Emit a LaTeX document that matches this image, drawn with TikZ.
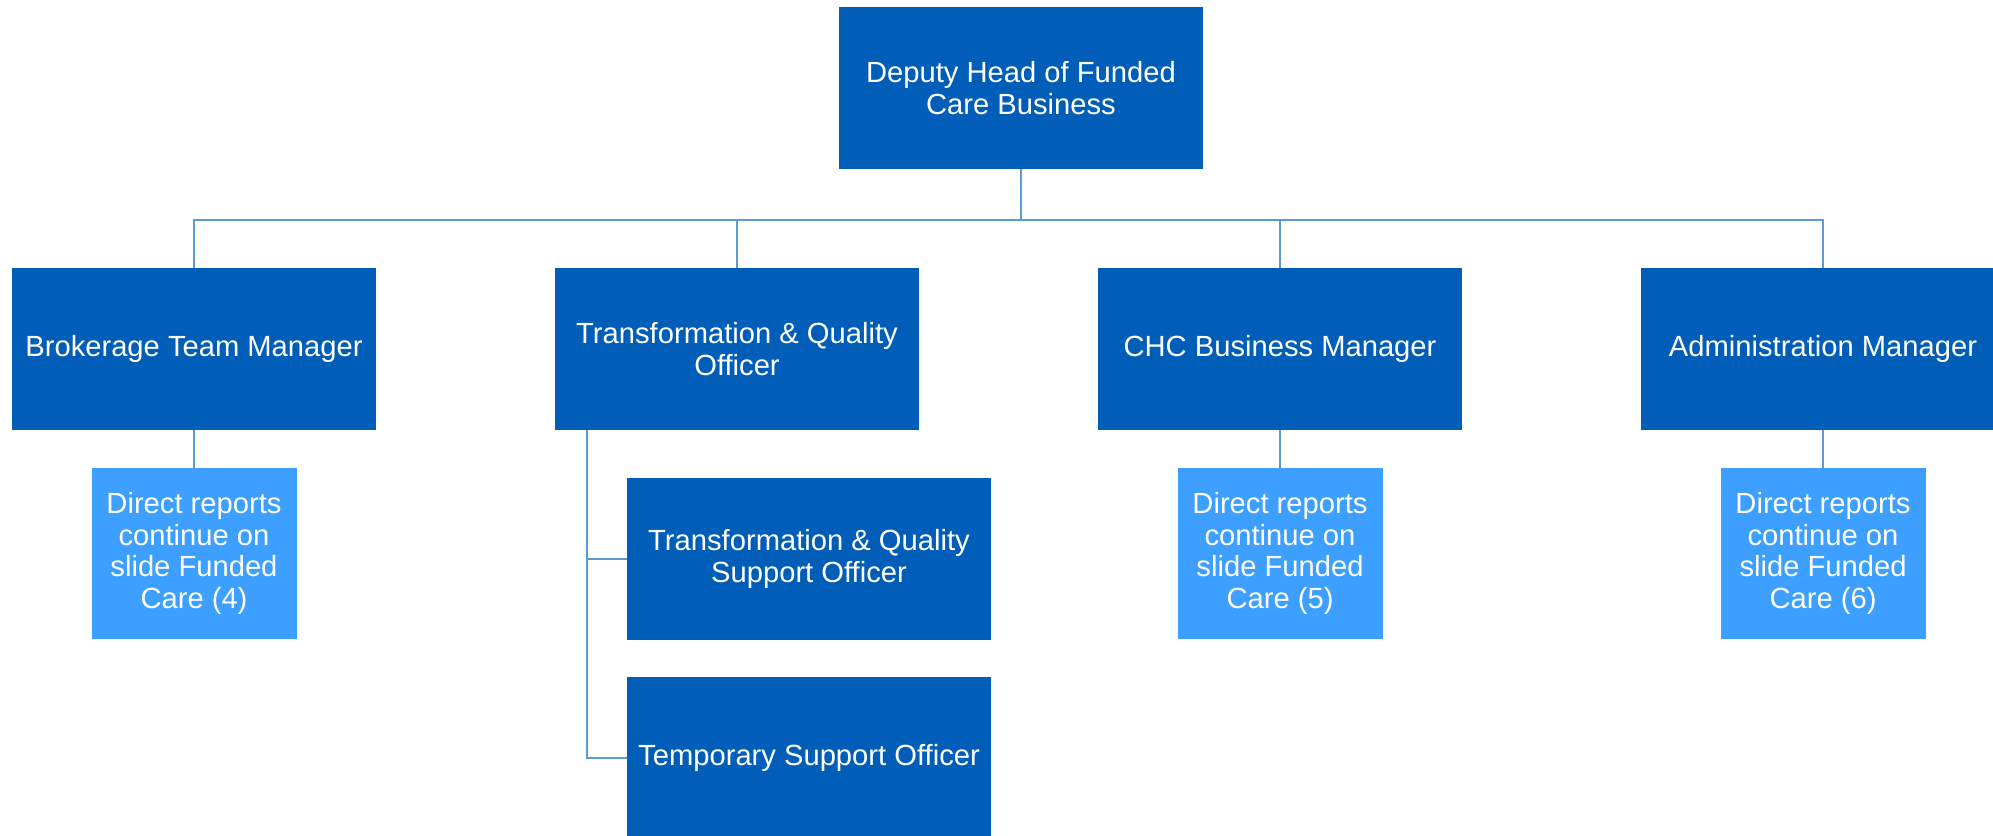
\documentclass[tikz,border=0pt]{standalone}
\usepackage{fontspec}
\setmainfont{Liberation Sans}
\usepackage{xcolor}
\usetikzlibrary{positioning}
\definecolor{orgblue}{HTML}{005EB8}
\definecolor{orglight}{HTML}{3D9FFF}
\definecolor{orgline}{HTML}{5B9BD5}
\tikzset{
  align=center,
  node distance=0.76cm,
  post/.style={rectangle,fill=orgblue,text=white,minimum width=7.28cm,minimum height=3.24cm,inner sep=0pt,outer sep=0pt,font=\fontsize{16.6}{18}\selectfont},
  note/.style={post,fill=orglight,minimum width=4.1cm,minimum height=3.42cm},
  link/.style={orgline,line width=0.03cm}
}

\begin{document}
\begin{tikzpicture}
  \useasboundingbox (0,0) rectangle (39.86,-16.70);

  \node[post] (head) at (20.42,-1.76) {Deputy Head of Funded\\Care Business};

  \node[post] (btm) at (3.88,-6.98) {Brokerage Team Manager};
  \node[post, right=3.58cm of btm] (tqo) {Transformation \& Quality\\Officer};
  \node[post, right=3.58cm of tqo] (chc) {CHC Business Manager};
  \node[post, right=3.58cm of chc] (adm) {Administration Manager};

  \foreach \m/\n in {btm/4,chc/5,adm/6}
    \node[note, below=of \m] (\m d) {Direct reports\\continue on\\slide Funded\\Care (\n)};

  \node[post, below=0.96cm of tqo, xshift=1.44cm] (tqs) {Transformation \& Quality\\Support Officer};
  \node[post, below=0.74cm of tqs] (tso) {Temporary Support Officer};

  \coordinate[below=1.02cm of head.south] (bus);
  \coordinate[right=0.64cm of tqo.south west] (spine);

  \draw[link] (head) -- (bus);
  \draw[link] (btm.north) |- (bus) -| (adm.north);
  \foreach \m in {tqo,chc}
    \draw[link] (\m.north) -- (\m.north |- bus);
  \foreach \m in {btm,chc,adm}
    \draw[link] (\m) -- (\m d);

  \draw[link] (spine) |- (tso.west);
  \draw[link] (spine |- tqs.west) -- (tqs.west);
\end{tikzpicture}
\end{document}
